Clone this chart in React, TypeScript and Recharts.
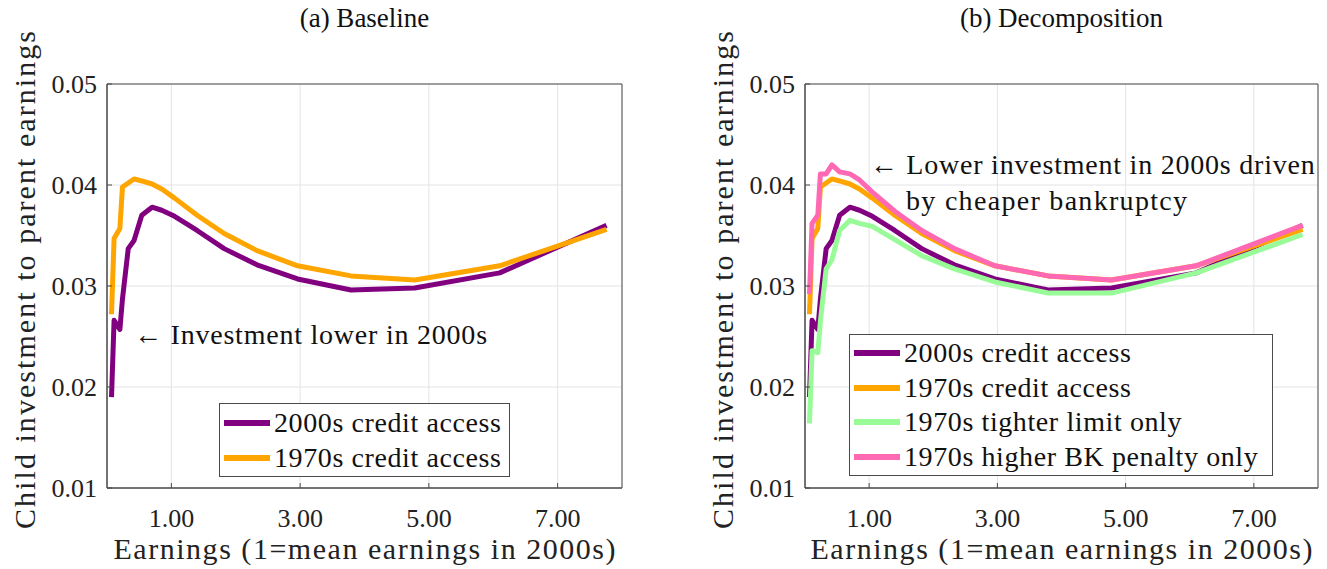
import React from 'react'
import {
  LineChart,
  Line,
  XAxis,
  YAxis,
  CartesianGrid,
  Legend,
  ReferenceArea,
  ReferenceDot,
} from 'recharts'

// earnings grid (1 = mean earnings in 2000s)
const earnings = [0.07, 0.11, 0.2, 0.24, 0.33, 0.42, 0.54, 0.7, 0.85, 1.05, 1.4, 1.82, 2.33, 2.96, 3.79, 4.78, 6.1, 7.76]

const credit2000s = [0.019, 0.0266, 0.0257, 0.0287, 0.0337, 0.0345, 0.037, 0.0378, 0.0375, 0.0369, 0.0355, 0.0337, 0.0321, 0.0307, 0.0296, 0.0298, 0.0313, 0.036]
const credit1970s = [0.0272, 0.0347, 0.0357, 0.0398, 0.0402, 0.0406, 0.0404, 0.0401, 0.0396, 0.0387, 0.037, 0.0352, 0.0335, 0.032, 0.031, 0.0306, 0.032, 0.0356]
const tighterLimit = [0.0164, 0.0236, 0.0234, 0.0265, 0.0317, 0.0326, 0.0355, 0.0365, 0.0362, 0.0359, 0.0346, 0.033, 0.0317, 0.0304, 0.0293, 0.0293, 0.0313, 0.0351]
const higherPenalty = [0.0292, 0.0362, 0.037, 0.0411, 0.0411, 0.042, 0.0413, 0.0411, 0.0405, 0.0393, 0.0374, 0.0355, 0.0337, 0.032, 0.031, 0.0306, 0.032, 0.036]

const xTicks = [1, 3, 5, 7]
const yTicks = [0.01, 0.02, 0.03, 0.04, 0.05]

const rows = earnings.map((x, i) => ({
  x,
  credit2000s: credit2000s[i],
  credit1970s: credit1970s[i],
  tighterLimit: tighterLimit[i],
  higherPenalty: higherPenalty[i],
}))

const FONT = "'Liberation Serif', 'Times New Roman', serif"
const AX = '#4a4a4a'

const S2000 = { key: 'credit2000s', name: '2000s credit access', color: '#800080' }
const S1970 = { key: 'credit1970s', name: '1970s credit access', color: '#FFA500' }
const SLIMIT = { key: 'tighterLimit', name: '1970s tighter limit only', color: '#98FB98' }
const SPEN = { key: 'higherPenalty', name: '1970s higher BK penalty only', color: '#FF69B4' }

type Series = { key: string; name: string; color: string }
type Note = { x: number; y: number; text: string; len: number }

function LegendBox({ series, width, rowH }: { series: Series[]; width: number; rowH: number }) {
  return (
    <div
      style={{
        width,
        boxSizing: 'border-box',
        border: `1px solid ${AX}`,
        background: '#fff',
        padding: '1px 0',
        fontFamily: FONT,
        fontSize: 28,
        color: '#111',
      }}
    >
      {series.map((s) => (
        <div key={s.key} style={{ display: 'flex', alignItems: 'center', height: rowH, whiteSpace: 'nowrap' }}>
          <span style={{ display: 'inline-block', width: 46, height: 6, background: s.color, marginLeft: 4, marginRight: 4 }} />
          <span style={{ letterSpacing: 0.6 }}>{s.name}</span>
        </div>
      ))}
    </div>
  )
}

function Panel({
  left,
  width,
  title,
  series,
  legendPos,
  notes,
}: {
  left: number
  width: number
  title: string
  series: Series[]
  legendPos: { left: number; top: number; width: number; rowH: number }
  notes: Note[]
}) {
  const marginRight = width === 660 ? 38 : 9
  const plotL = 107
  const plotR = width - marginRight
  return (
    <div style={{ position: 'absolute', left, top: 0 }}>
      <div
        style={{
          position: 'absolute',
          left: plotL,
          width: plotR - plotL,
          top: 2,
          textAlign: 'center',
          fontFamily: FONT,
          fontSize: 27,
          lineHeight: '32px',
          color: '#111',
        }}
      >
        {title}
      </div>
      <LineChart width={width} height={569} data={rows} margin={{ top: 84, right: marginRight, left: 0, bottom: 0 }}>
        <CartesianGrid stroke="#e3e3e3" strokeWidth={1} />
        <XAxis
          dataKey="x"
          type="number"
          domain={[0, 8]}
          ticks={xTicks}
          allowDataOverflow
          tickFormatter={(v: number) => v.toFixed(2)}
          tick={{ fill: '#222', fontSize: 26, fontFamily: FONT }}
          tickSize={-5}
          tickMargin={26}
          axisLine={{ stroke: AX }}
          tickLine={{ stroke: AX }}
          height={81}
          label={(p: any) => {
            const vb = p.viewBox || {}
            return (
              <text
                x={vb.x + vb.width / 2}
                y={559}
                textAnchor="middle"
                fontSize={30}
                fontFamily={FONT}
                style={{ fontFamily: FONT }}
                fill="#222"
                textLength={502}
                lengthAdjust="spacing"
              >
                Earnings (1=mean earnings in 2000s)
              </text>
            )
          }}
        />
        <YAxis
          type="number"
          domain={[0.01, 0.05]}
          ticks={yTicks}
          allowDataOverflow
          tickFormatter={(v: number) => v.toFixed(2)}
          tick={{ fill: '#222', fontSize: 26, fontFamily: FONT }}
          tickSize={-5}
          tickMargin={15}
          axisLine={{ stroke: AX }}
          tickLine={{ stroke: AX }}
          width={107}
          label={(p: any) => {
            const vb = p.viewBox || {}
            const cy = vb.y + vb.height / 2 - 6
            return (
              <text
                x={24}
                y={cy}
                transform={`rotate(-90, 24, ${cy})`}
                textAnchor="middle"
                dominantBaseline="central"
                fontSize={30}
                fontFamily={FONT}
                style={{ fontFamily: FONT }}
                fill="#222"
                textLength={498}
                lengthAdjust="spacing"
              >
                Child investment to parent earnings
              </text>
            )
          }}
        />
        <ReferenceArea x1={0} x2={8} y1={0.01} y2={0.05} fill="none" fillOpacity={0} stroke={AX} strokeWidth={1} />
        {series.map((s) => (
          <Line
            key={s.key}
            type="linear"
            dataKey={s.key}
            name={s.name}
            stroke={s.color}
            strokeWidth={5}
            strokeLinejoin="round"
            dot={false}
            isAnimationActive={false}
          />
        ))}
        {notes.map((n, i) => (
          <ReferenceDot
            key={i}
            x={n.x}
            y={n.y}
            r={1}
            fill="none"
            stroke="none"
            label={(p: any) => {
              const vb = p.viewBox || {}
              return (
                <text
                  x={vb.x + (vb.width || 0) / 2}
                  y={vb.y + (vb.height || 0) / 2}
                  dominantBaseline="central"
                  fontSize={28}
                  fontFamily={FONT}
                  style={{ fontFamily: FONT }}
                  fill="#111"
                  textLength={n.len}
                  lengthAdjust="spacing"
                >
                  {n.text}
                </text>
              )
            }}
          />
        ))}
        <Legend
          layout="vertical"
          align="center"
          verticalAlign="middle"
          wrapperStyle={{ left: legendPos.left, top: legendPos.top, width: legendPos.width }}
          content={() => <LegendBox series={series} width={legendPos.width} rowH={legendPos.rowH} />}
        />
      </LineChart>
    </div>
  )
}

export default function App() {
  return (
    <div style={{ position: 'absolute', left: 0, top: 0, width: 1327, height: 569, background: '#fff' }}>
      <style>{`.recharts-wrapper text, .recharts-wrapper, .recharts-legend-wrapper { font-family: 'Liberation Serif', 'Times New Roman', serif !important; }`}</style>
      <Panel
        left={0}
        width={660}
        title="(a) Baseline"
        series={[S2000, S1970]}
        legendPos={{ left: 219, top: 403, width: 291, rowH: 35 }}
        notes={[{ x: 0.42, y: 0.0252, text: '← Investment lower in 2000s', len: 353 }]}
      />
      <Panel
        left={698}
        width={629}
        title="(b) Decomposition"
        series={[S2000, S1970, SLIMIT, SPEN]}
        legendPos={{ left: 151, top: 334, width: 424, rowH: 34.5 }}
        notes={[
          { x: 1.01, y: 0.042, text: '← Lower investment in 2000s driven', len: 445 },
          { x: 1.575, y: 0.0385, text: 'by cheaper bankruptcy', len: 281 },
        ]}
      />
    </div>
  )
}
